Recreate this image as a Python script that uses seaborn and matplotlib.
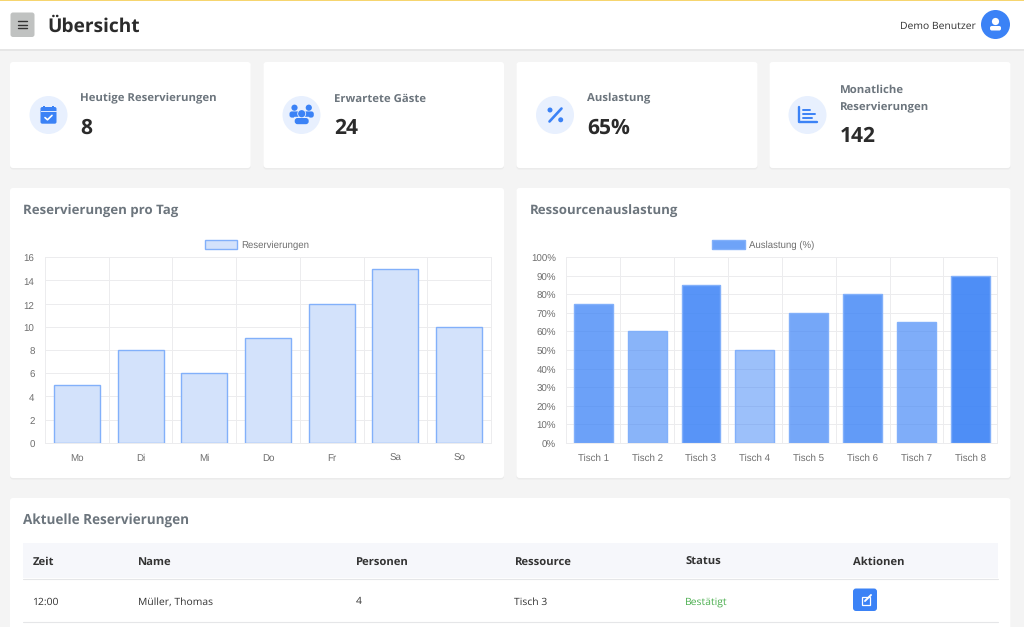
import matplotlib
matplotlib.use('Agg')
import matplotlib.pyplot as plt
import pandas as pd
import seaborn as sns
from matplotlib.patches import Circle, FancyBboxPatch, Patch, Rectangle
from matplotlib.transforms import ScaledTranslation

# chart data
days = ['Mo', 'Di', 'Mi', 'Do', 'Fr', 'Sa', 'So']
reservations = [5, 8, 6, 9, 12, 15, 10]
tables = ['Tisch 1', 'Tisch 2', 'Tisch 3', 'Tisch 4', 'Tisch 5', 'Tisch 6', 'Tisch 7', 'Tisch 8']
utilisation = [75, 60, 85, 50, 70, 80, 65, 90]

# page content
kpi_labels = ['Heutige Reservierungen', 'Erwartete Gäste', 'Auslastung', 'Monatliche\nReservierungen']
kpi_values = ['8', '24', '65%', '142']
table_header = ['Zeit', 'Name', 'Personen', 'Ressource', 'Status', 'Aktionen']
table_row = ['12:00', 'Müller, Thomas', '4', 'Tisch 3', 'Bestätigt']

BLUE = '#3b82f6'
UI_FONT = 'Open Sans'
CHART_FONT = 'Liberation Sans'
GRID = '#ececee'
TICK_COLOUR = '#6e6e6e'
HEADING = '#6c757d'
TINT = '#e8f0fe'


def px(size):
    # css pixels to points
    return size * 0.72


def card(ax, x0, y0, x1, y1):
    ax.add_patch(FancyBboxPatch((x0, y0 + 1.5), x1 - x0, y1 - y0, boxstyle='round,pad=0,rounding_size=3',
                                fc='#ebebeb', ec='none', zorder=1))
    ax.add_patch(FancyBboxPatch((x0, y0), x1 - x0, y1 - y0, boxstyle='round,pad=0,rounding_size=3',
                                fc='white', ec='none', zorder=2))


def blob(ax, x0, y0, x1, y1, r, colour=BLUE, z=4):
    ax.add_patch(FancyBboxPatch((x0, y0), x1 - x0, y1 - y0, boxstyle=f'round,pad=0,rounding_size={r}',
                                fc=colour, ec='none', zorder=z))


def draw_calendar(ax, cx, cy):
    blob(ax, cx - 8, cy - 8, cx + 8, cy + 8.7, 1.8)
    ax.add_patch(Rectangle((cx - 8, cy - 3.6), 16, 0.8, fc='#dbe7fd', ec='none', zorder=5))
    for dx in (-4.3, 4.3):
        ax.add_patch(Rectangle((cx + dx - 1, cy - 9.5), 2, 3, fc=BLUE, ec='none', zorder=5))
    ax.plot([cx - 3.5, cx - 1, cx + 3.5], [cy + 2.6, cy + 4.8, cy + 0.4], color='white', lw=1.2, zorder=6)


def draw_users(ax, cx, cy):
    for dx in (-7, 7.3):
        ax.add_patch(Circle((cx + dx, cy - 7.3), 3.1, fc=BLUE, ec='none', zorder=4))
    blob(ax, cx - 12, cy - 3.6, cx - 2, cy + 2.6, 2.4)
    blob(ax, cx + 2.3, cy - 3.6, cx + 12.3, cy + 2.6, 2.4)
    # tinted ring keeps the middle person apart from the two behind
    ax.add_patch(Circle((cx + 0.2, cy - 1.3), 4.4, fc=TINT, ec='none', zorder=4.5))
    blob(ax, cx - 7.6, cy + 1.8, cx + 8, cy + 5, 1, TINT, 4.5)
    ax.add_patch(Circle((cx + 0.2, cy - 1.3), 3.6, fc=BLUE, ec='none', zorder=5))
    blob(ax, cx - 6.8, cy + 3, cx + 7.2, cy + 9.2, 2.8, z=5)


def draw_percent(ax, cx, cy):
    ax.plot([cx + 6.5, cx - 5.5], [cy - 6.5, cy + 6.5], color=BLUE, lw=1.9, solid_capstyle='round', zorder=4)
    ax.add_patch(Circle((cx - 5, cy - 5), 2.5, fc=BLUE, ec='none', zorder=4))
    ax.add_patch(Circle((cx + 5.7, cy + 4.8), 2.5, fc=BLUE, ec='none', zorder=4))


def draw_chart_icon(ax, cx, cy):
    ax.plot([cx - 8.8, cx - 8.8, cx + 9.2], [cy - 8, cy + 7.4, cy + 7.4], color=BLUE, lw=1.7, zorder=4,
            solid_capstyle='round', solid_joinstyle='round')
    for dy, w in ((-5.5, 7), (-1.5, 12), (2.5, 9)):
        ax.plot([cx - 5, cx - 5 + w], [cy + dy, cy + dy], color=BLUE, lw=1.4, zorder=4)


def style_chart(ax, n, ymax, step, fmt):
    ax.set_xlim(-0.5, n - 0.5)
    ax.set_ylim(0, ymax)
    ax.set_xlabel('')
    ax.set_ylabel('')
    ax.set_facecolor('white')
    ax.set_axisbelow(True)
    ax.set_yticks(range(0, ymax + 1, step))
    ax.set_yticklabels([fmt.format(v) for v in range(0, ymax + 1, step)])
    ax.set_xticks([i - 0.5 for i in range(n + 1)], minor=True)
    ax.grid(False, which='both')
    ax.grid(True, which='minor', axis='x', color=GRID, lw=0.72)
    ax.grid(True, which='major', axis='y', color=GRID, lw=0.72)
    ax.tick_params(axis='x', which='major', length=0, pad=8, labelsize=px(9.8), labelcolor=TICK_COLOUR)
    ax.tick_params(axis='x', which='minor', length=4, width=0.72, color=GRID)
    ax.tick_params(axis='y', which='major', length=4, width=0.72, color=GRID, pad=3.5,
                   labelsize=px(9.8), labelcolor=TICK_COLOUR)
    for label in ax.get_xticklabels() + ax.get_yticklabels():
        label.set_fontfamily(CHART_FONT)
    # y labels sit a little low against the grid lines in the original
    nudge = ScaledTranslation(0, -1.3 / 100, fig.dpi_scale_trans)
    for tick in ax.yaxis.get_major_ticks():
        tick.label1.set_transform(tick.label1.get_transform() + nudge)
    for spine in ax.spines.values():
        spine.set_color(GRID)
        spine.set_linewidth(0.72)


def chart_legend(ax, fill, label, centre):
    # the legend sits on the middle of the canvas, not of the plot area
    ax.legend(handles=[Patch(fc=fill, ec='#82b0fa', lw=1, label=label)],
              loc='lower center', bbox_to_anchor=(centre, 1.0), frameon=False, handlelength=3.4, handleheight=1.05,
              handletextpad=0.45, borderaxespad=0.35, prop={'family': CHART_FONT, 'size': px(9.6)},
              labelcolor=TICK_COLOUR)


sns.set_theme(style='white')
plt.rcParams['font.family'] = [UI_FONT, 'DejaVu Sans']
plt.rcParams['text.hinting'] = 'no_hinting'

fig = plt.figure(figsize=(10.24, 6.27), dpi=100, facecolor='#f4f4f4')

# overlay in pixel coordinates for the page around the charts
page = fig.add_axes([0, 0, 1, 1], zorder=0)
page.set_xlim(0, 1024)
page.set_ylim(627, 0)
page.axis('off')


def bold(x, y, text, size, colour, **kwargs):
    # y is the text baseline
    page.text(x, y, text, fontsize=px(size), fontweight='bold', color=colour, va='baseline', zorder=5, **kwargs)


# top bar
page.add_patch(Rectangle((0, 48), 1024, 2.5, fc='#e6e6e6', ec='none', zorder=1))
page.add_patch(Rectangle((0, 0), 1024, 49, fc='white', ec='none', zorder=2))
page.add_patch(Rectangle((0, 0), 1024, 1.2, fc='#f6d56f', ec='none', zorder=3))
blob(page, 10.5, 12.5, 34.5, 37, 2.5, '#c0c2c1', 3)
for y in (21, 24.7, 28.4):
    page.plot([18, 27], [y, y], color='#333333', lw=1, zorder=4)
bold(47, 32, 'Übersicht', 19.2, '#2b2b2b')
page.text(975.5, 29.3, 'Demo Benutzer', fontsize=px(10.4), color='#333333', va='baseline', ha='right', zorder=4)
page.add_patch(Circle((995.5, 24.5), 14.5, fc=BLUE, ec='none', zorder=3))
page.add_patch(Circle((995.5, 21.5), 3.6, fc='white', ec='none', zorder=4))
blob(page, 990, 26, 1001, 30.5, 1.8, 'white')

# KPI cards
card_edges = [(10, 250.7), (263.5, 504), (516.5, 757.5), (769.5, 1010.5)]
icon_x = [48.5, 301.5, 555, 807.5]
text_x = [80.5, 334, 587, 840]
icons = [draw_calendar, draw_users, draw_percent, draw_chart_icon]
for i, (x0, x1) in enumerate(card_edges):
    card(page, x0, 62, x1, 168)
    page.add_patch(Circle((icon_x[i], 115), 19, fc=TINT, ec='none', zorder=3))
    icons[i](page, icon_x[i], 115)
    lines = kpi_labels[i].split('\n')
    first_baseline = 93 if len(lines) == 2 else 101.7
    for n, line in enumerate(lines):
        bold(text_x[i], first_baseline + n * 17, line, 11.4, HEADING)
    bold(text_x[i], 142.3 if len(lines) == 2 else 134, kpi_values[i], 21, '#2b2b2b')

# chart cards
card(page, 10, 188, 504, 478)
card(page, 516.5, 188, 1010.5, 478)
bold(23, 215, 'Reservierungen pro Tag', 13.3, HEADING)
bold(530, 215, 'Ressourcenauslastung', 13.3, HEADING)

# table card
card(page, 10, 498, 1010.5, 640)
bold(23, 525, 'Aktuelle Reservierungen', 13.5, HEADING)
page.add_patch(Rectangle((23, 543), 975, 35, fc='#f6f7fb', ec='none', zorder=3))
page.plot([23, 998], [578.5, 578.5], color='#e5e6e8', lw=0.8, zorder=4)
page.plot([23, 998], [621.5, 621.5], color='#e5e6e8', lw=0.8, zorder=4)
col_x = [32.5, 138, 356, 514.5, 685, 853]
for x, label in zip(col_x, table_header):
    bold(x, 565, label, 11.3, '#333333')
for x, value, colour in zip(col_x, table_row, ['#333333'] * 4 + ['#4caf50']):
    page.text(x, 604.5, value, fontsize=px(10.4), color=colour, va='baseline', zorder=5)
blob(page, 853, 588.5, 877, 611, 3)
page.add_patch(Rectangle((861.5, 596.5), 8, 8, fc='none', ec='white', lw=0.9, zorder=5))
page.plot([865, 871], [601, 595], color='white', lw=1.4, zorder=6)

# reservations per day
w, h = 1024, 627
ax1 = fig.add_axes([45 / w, 1 - 442.7 / h, 446 / w, 185.4 / h], zorder=2)
df1 = pd.DataFrame({'Tag': days, 'Reservierungen': reservations})
sns.barplot(data=df1, x='Tag', y='Reservierungen', color='#d3e2fb', edgecolor='#82b0fa', linewidth=1,
            width=0.72, saturation=1, ax=ax1, zorder=3)
style_chart(ax1, len(days), 16, 2, '{}')
chart_legend(ax1, '#d3e2fb', 'Reservierungen', (257 - 45) / 446)

# utilisation per table, bar opacity follows the value
ax2 = fig.add_axes([566.3 / w, 1 - 442.7 / h, 431 / w, 185.4 / h], zorder=2)
df2 = pd.DataFrame({'Tisch': tables, 'Auslastung': utilisation})
sns.barplot(data=df2, x='Tisch', y='Auslastung', color=BLUE, edgecolor='#82b0fa', linewidth=1,
            width=0.72, saturation=1, ax=ax2, zorder=3)
for bar, value in zip(ax2.patches, utilisation):
    bar.set_facecolor((0x3b / 255, 0x82 / 255, 0xf6 / 255, value / 100))
style_chart(ax2, len(tables), 100, 10, '{}%')
chart_legend(ax2, '#6ea3f8', 'Auslastung (%)', (763.5 - 566.3) / 431)

fig.savefig('out.png', dpi=100, facecolor=fig.get_facecolor())
